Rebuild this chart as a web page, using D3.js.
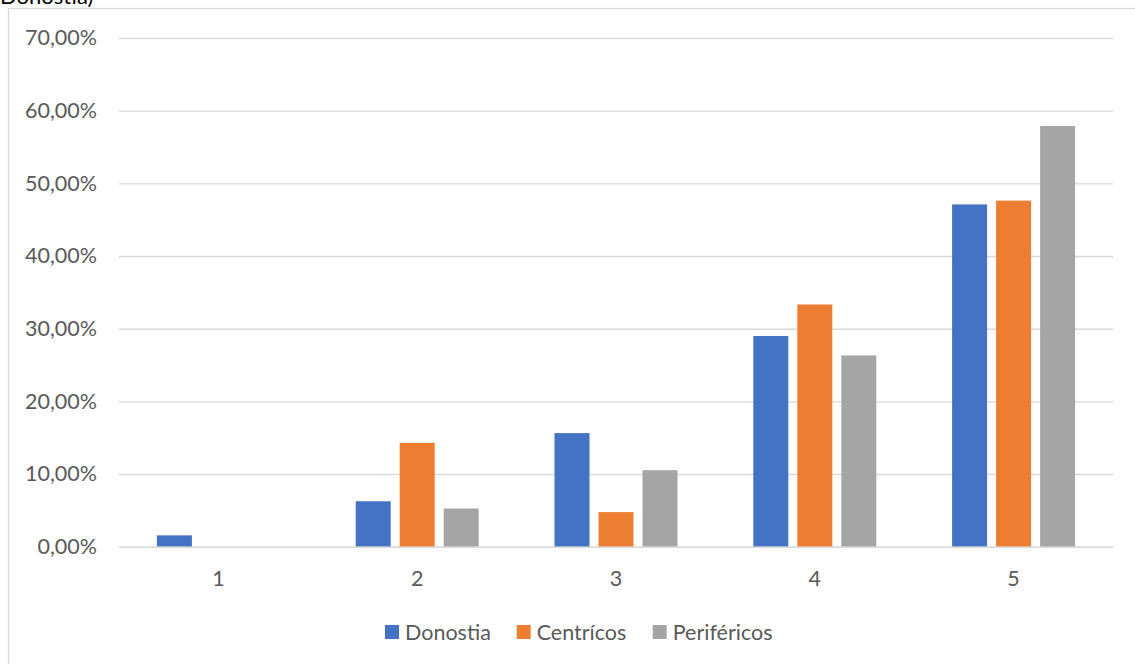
<!DOCTYPE html>
<html>
<head>
<meta charset="utf-8">
<script src="https://cdn.jsdelivr.net/npm/d3@7"></script>
<style>
  html, body { margin: 0; padding: 0; background: #fff; }
  svg { display: block; }
  text { font-family: Lato, "Open Sans", sans-serif; }
</style>
</head>
<body>
<svg id="chart" width="1135" height="664"></svg>
<script>
// Answer levels on the horizontal axis
const categories = ["1", "2", "3", "4", "5"];
// Share of answers per level, in percent
const series = ["Donostia", "Centrícos", "Periféricos"];
const donostia   = [1.56, 6.25, 15.63, 29.0, 47.1];
const centricos  = [0, 14.29, 4.76, 33.33, 47.62];
const perifericos = [0, 5.26, 10.53, 26.32, 57.89];
const yTicks = [0, 10, 20, 30, 40, 50, 60, 70];
const colors = ["#4472C4", "#ED7D31", "#A5A5A5"];

const values = [donostia, centricos, perifericos];
const rows = categories.map((c, i) => ({
  cat: c,
  vals: series.map((s, j) => ({ key: s, value: values[j][i], color: colors[j] }))
}));

const svg = d3.select("#chart");
const textColor = "#595959";
const gridColor = "#D9D9D9";
const fontSize = "21.5px";

// outer frame of the chart area
svg.append("rect")
  .attr("x", 8.5).attr("y", 8.5)
  .attr("width", 1200).attr("height", 700)
  .attr("fill", "#fff")
  .attr("stroke", gridColor).attr("stroke-width", 1.2);

// tail of the caption above the frame
svg.append("text")
  .attr("x", 0).attr("y", 4)
  .attr("fill", "#000")
  .style("font-size", "22px")
  .text("Donostia)");

const plot = { left: 119, right: 1113, top: 38, bottom: 546.7 };

const y = d3.scaleLinear().domain([0, 70]).range([plot.bottom, plot.top]);
const x0 = d3.scaleBand().domain(categories).range([plot.left, plot.right]).padding(0);
const groupW = 123;
const x1 = d3.scaleBand().domain(series)
  .range([(x0.bandwidth() - groupW) / 2, (x0.bandwidth() + groupW) / 2])
  .paddingInner(0.2045).paddingOuter(0);

const locale = d3.formatLocale({ decimal: ",", thousands: ".", grouping: [3], currency: ["", "€"] });
const fmt = v => locale.format(".2f")(v) + "%";

// horizontal gridlines with value labels
const yAxis = d3.axisLeft(y).tickValues(yTicks).tickSize(-(plot.right - plot.left)).tickPadding(22).tickFormat(fmt);
const gy = svg.append("g").attr("transform", `translate(${plot.left},0)`).call(yAxis);
gy.select(".domain").remove();
gy.selectAll(".tick line").attr("stroke", gridColor).attr("stroke-width", 1.4);
gy.selectAll(".tick text").attr("fill", textColor).style("font-size", fontSize).attr("x", -22);

// bars
const groups = svg.append("g").selectAll("g").data(rows).join("g")
  .attr("transform", d => `translate(${x0(d.cat)},0)`);
groups.selectAll("rect").data(d => d.vals.filter(v => v.value > 0)).join("rect")
  .attr("x", d => x1(d.key))
  .attr("width", x1.bandwidth())
  .attr("y", d => y(d.value))
  .attr("height", d => y(0) - y(d.value))
  .attr("fill", d => d.color);

// category axis
const xAxis = d3.axisBottom(x0).tickSize(0).tickPadding(24);
const gx = svg.append("g").attr("transform", `translate(0,${plot.bottom})`).call(xAxis);
gx.select(".domain").attr("stroke", gridColor).attr("stroke-width", 1.6);
gx.selectAll(".tick text").attr("fill", textColor).style("font-size", fontSize).attr("dy", "0.71em");

// legend
const legendX = [385, 516.7, 652.7];
const legend = svg.append("g").selectAll("g").data(series).join("g")
  .attr("transform", (d, i) => `translate(${legendX[i]},625)`);
legend.append("rect").attr("width", 14).attr("height", 14).attr("fill", (d, i) => colors[i]);
legend.append("text").attr("x", 20).attr("y", 7).attr("dy", "0.36em")
  .attr("fill", textColor).style("font-size", fontSize).text(d => d);
</script>
</body>
</html>
